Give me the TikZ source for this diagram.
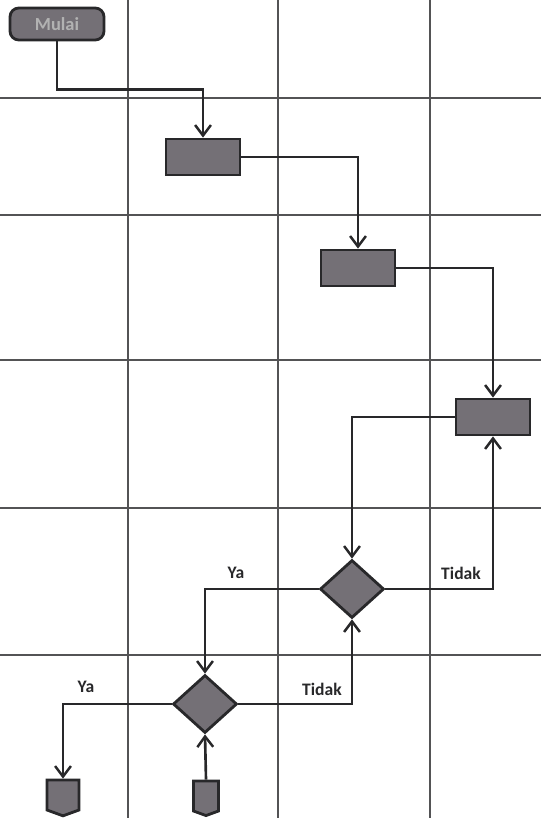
\documentclass[tikz,border=0pt]{standalone}
\usepackage{fontspec}
\setmainfont{Carlito}
\usetikzlibrary{arrows.meta,shapes.geometric,shapes.symbols}
\definecolor{boxgray}{RGB}{116,112,118}
\definecolor{linegray}{RGB}{40,40,42}

\begin{document}
\begin{tikzpicture}[x=0.02cm,y=-0.02cm,
	flow/.style={draw=linegray,line width=1.5pt,-{Straight Barb[length=6pt,width=9pt,line width=1.4pt]}},
	proc/.style={draw=linegray,fill=boxgray,line width=1.6pt,minimum width=1.48cm,minimum height=0.72cm,inner sep=0pt},
	dec/.style={diamond,draw=linegray,fill=boxgray,line width=1.6pt,minimum width=1.28cm,minimum height=1.16cm,inner sep=0pt},
	conn/.style={signal,signal to=south,signal from=nowhere,signal pointer angle=140,draw=linegray,fill=boxgray,line width=1.6pt,minimum height=0.6cm,inner sep=0pt},
	lbl/.style={font=\fontsize{10}{12}\selectfont\bfseries,text=linegray}]
	\useasboundingbox (0,0) rectangle (541,818);
	% lanes
	\foreach \x in {128,278,430} \draw[linegray!80,line width=0.6pt] (\x,0) -- (\x,818);
	\foreach \y in {98,215,360,508,655} \draw[linegray!80,line width=0.6pt] (0,\y) -- (541,\y);
	% steps
	\node[draw=linegray,fill=boxgray,line width=1.6pt,rounded corners=5pt,minimum width=1.88cm,minimum height=0.64cm,inner sep=0pt,text=gray!60,font=\fontsize{10.5}{12}\selectfont\bfseries] (mulai) at (57,24) {Mulai};
	\node[proc] (p1) at (203,157) {};
	\node[proc] (p2) at (358,268) {};
	\node[proc] (p3) at (493,417) {};
	\node[dec] (d1) at (352,589) {};
	\node[dec] (d2) at (205,704) {};
	\node[conn,minimum width=0.64cm] (c1) at (63,795) {};
	\node[conn,minimum width=0.5cm] (c2) at (206,796) {};
	% arrows
	\draw[flow] (mulai.south) -- ++(0,48) -| (p1.north);
	\draw[flow] (p1.east) -| (p2.north);
	\draw[flow] (p2.east) -| (p3.north);
	\draw[flow] (p3.west) -| (d1.north);
	\draw[flow] (d1.east) -| (p3.south);
	\draw[flow] (d1.west) -| (d2.north);
	\draw[flow] (d2.east) -| (d1.south);
	\draw[flow] (d2.west) -| (c1.north);
	\draw[flow] (c2.north) -- (d2.south);
	% labels
	\node[lbl] (t1) at (461,573) {Tidak};
	\node[lbl] (y1) at (236,573) {Ya};
	\node[lbl] (t2) at (322,689) {Tidak};
	\node[lbl] (y2) at (86,687) {Ya};
\end{tikzpicture}
\end{document}
